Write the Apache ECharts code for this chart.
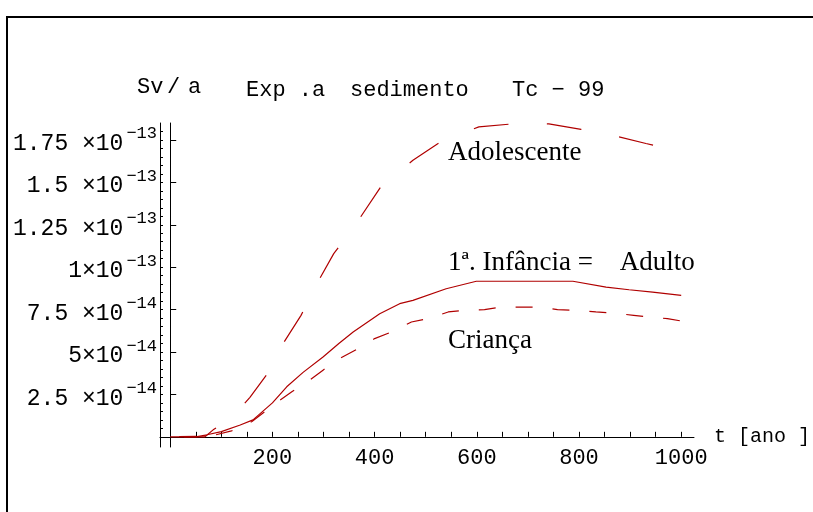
<!DOCTYPE html>
<html lang="pt">
<head>
    <meta charset="UTF-8">
    <title>Exp. a sedimento Tc-99</title>
    <script src="https://cdn.jsdelivr.net/npm/echarts@6/dist/echarts.min.js"></script>
    <style>
        body { margin: 0; background: #fff; }
        #chart { width: 813px; height: 512px; }
    </style>
</head>
<body>
    <div id="chart"></div>
    <script>
        // valores em unidades de 1e-14 Sv/a
        const adolescenteX = [0, 68, 84, 122, 156, 194, 221, 256, 285, 320, 361, 412, 475, 533, 604, 671, 741, 804, 868, 931, 1000];
        const adolescenteY = [0, 0, 0.41, 1.16, 2.33, 3.87, 5.5, 7.16, 8.92, 10.8, 12.44, 14.73, 16.3, 17.47, 18.27, 18.45, 18.45, 18.12, 17.76, 17.29, 16.8];

        const infanciaX = [0, 50, 72, 100, 137, 162, 200, 228, 260, 299, 330, 358, 410, 449, 475, 540, 599, 670, 788, 853, 898, 944, 1000];
        const infanciaY = [0, 0, 0.12, 0.31, 0.7, 1.0, 2.0, 2.95, 3.8, 4.71, 5.5, 6.18, 7.25, 7.85, 8.04, 8.73, 9.17, 9.17, 9.17, 8.82, 8.67, 8.53, 8.34];

        const criancaX = [0, 80, 120, 160, 215, 238, 273, 299, 332, 365, 400, 433, 472, 505, 544, 576, 615, 648, 687, 721, 758, 794, 833, 866, 907, 936, 973, 1000];
        const criancaY = [0, 0.05, 0.35, 0.9, 2.17, 2.66, 3.35, 3.93, 4.62, 5.15, 5.79, 6.18, 6.77, 6.97, 7.36, 7.46, 7.5, 7.65, 7.65, 7.65, 7.5, 7.46, 7.36, 7.3, 7.16, 7.06, 6.97, 6.83];

        const xTicks = [50, 100, 150, 200, 250, 300, 350, 400, 450, 500, 550, 600, 650, 700, 750, 800, 850, 900, 950, 1000];
        const xLabels = [200, 400, 600, 800, 1000];
        const yTicks = [2.5, 5, 7.5, 10, 12.5, 15, 17.5];
        const yMantissa = ['2.5 ×10', '5×10', '7.5 ×10', '1×10', '1.25 ×10', '1.5 ×10', '1.75 ×10'];
        const yExponent = ['−14', '−14', '−14', '−13', '−13', '−13', '−13'];
        const yMinorTicks = [];
        for (let v = 0.5; v <= 18.01; v += 0.5) yMinorTicks.push(+v.toFixed(1));

        const zip = (xs, ys) => xs.map((x, i) => [x, ys[i]]);

        const mono = 'Liberation Mono';
        const red = '#b00000';
        const monoFont = '22px "Liberation Mono"';
        const serifFont = '27px "Liberation Serif"';

        const chart = echarts.init(document.getElementById('chart'));

        const option = {
            animation: false,
            backgroundColor: '#fff',
            grid: { left: 160, top: 123, width: 535, height: 324 },
            xAxis: {
                type: 'value', min: -20, max: 1025,
                axisLine: { onZero: true, lineStyle: { color: '#000', width: 1 } },
                axisTick: { inside: true, length: 5, customValues: xTicks, lineStyle: { color: '#000' } },
                axisLabel: {
                    customValues: xLabels, fontFamily: mono, fontSize: 22, color: '#000', margin: 0,
                    formatter: v => String(v)
                },
                splitLine: { show: false },
                name: 't [ano ]', nameLocation: 'end', nameGap: 20,
                nameTextStyle: { fontFamily: mono, fontSize: 20, color: '#000', padding: [6, 0, 0, 0] }
            },
            yAxis: [{
                type: 'value', min: -0.6, max: 18.5,
                axisLine: { onZero: true, lineStyle: { color: '#000', width: 1 } },
                axisTick: { inside: true, length: 6, customValues: yTicks, lineStyle: { color: '#000' } },
                axisLabel: {
                    customValues: yTicks, margin: 3, color: '#000',
                    formatter: v => {
                        const i = yTicks.indexOf(+v.toFixed(1));
                        return '{a|' + yMantissa[i] + '}{b|' + yExponent[i] + '}';
                    },
                    rich: {
                        a: { fontFamily: mono, fontSize: 23, color: '#000', padding: [8, 0, 0, 0] },
                        b: { fontFamily: mono, fontSize: 17, color: '#000', padding: [0, 0, 12, 3] }
                    }
                },
                splitLine: { show: false }
            }, {
                type: 'value', min: -0.6, max: 18.5, position: 'left',
                axisLine: { onZero: true, lineStyle: { color: '#000', width: 1 } },
                axisTick: { inside: true, length: 3, customValues: yMinorTicks, lineStyle: { color: '#000' } },
                axisLabel: { show: false },
                splitLine: { show: false }
            }],
            series: [{
                name: 'Adolescente', type: 'line', showSymbol: false, silent: true,
                data: zip(adolescenteX, adolescenteY),
                lineStyle: { color: red, width: 1.2, type: [35, 38.4], dashOffset: 59.5 }
            }, {
                name: '1ª. Infância = Adulto', type: 'line', showSymbol: false, silent: true,
                data: zip(infanciaX, infanciaY),
                lineStyle: { color: red, width: 1.2, type: 'solid' }
            }, {
                name: 'Criança', type: 'line', showSymbol: false, silent: true,
                data: zip(criancaX, criancaY),
                lineStyle: { color: red, width: 1.2, type: [17, 20], dashOffset: 28 }
            }],
            graphic: [
                { type: 'line', shape: { x1: 7, y1: 17, x2: 813, y2: 17 }, style: { stroke: '#000', lineWidth: 2 } },
                { type: 'line', shape: { x1: 7, y1: 16, x2: 7, y2: 512 }, style: { stroke: '#000', lineWidth: 2 } },
                { type: 'text', left: 137, top: 76, style: { text: 'Sv', font: monoFont, fill: '#000' } },
                { type: 'text', left: 167, top: 76, style: { text: '/', font: monoFont, fill: '#000' } },
                { type: 'text', left: 188, top: 76, style: { text: 'a', font: monoFont, fill: '#000' } },
                { type: 'text', left: 246, top: 79, style: { text: 'Exp .a', font: monoFont, fill: '#000' } },
                { type: 'text', left: 350, top: 79, style: { text: 'sedimento', font: monoFont, fill: '#000' } },
                { type: 'text', left: 512, top: 79, style: { text: 'Tc − 99', font: monoFont, fill: '#000' } },
                { type: 'text', left: 448, top: 139, style: { text: 'Adolescente', font: serifFont, fill: '#000' } },
                { type: 'text', left: 448, top: 249, style: { text: '1ª. Infância =    Adulto', font: serifFont, fill: '#000' } },
                { type: 'text', left: 448, top: 327, style: { text: 'Criança', font: serifFont, fill: '#000' } }
            ]
        };

        chart.setOption(option);
    </script>
</body>
</html>
